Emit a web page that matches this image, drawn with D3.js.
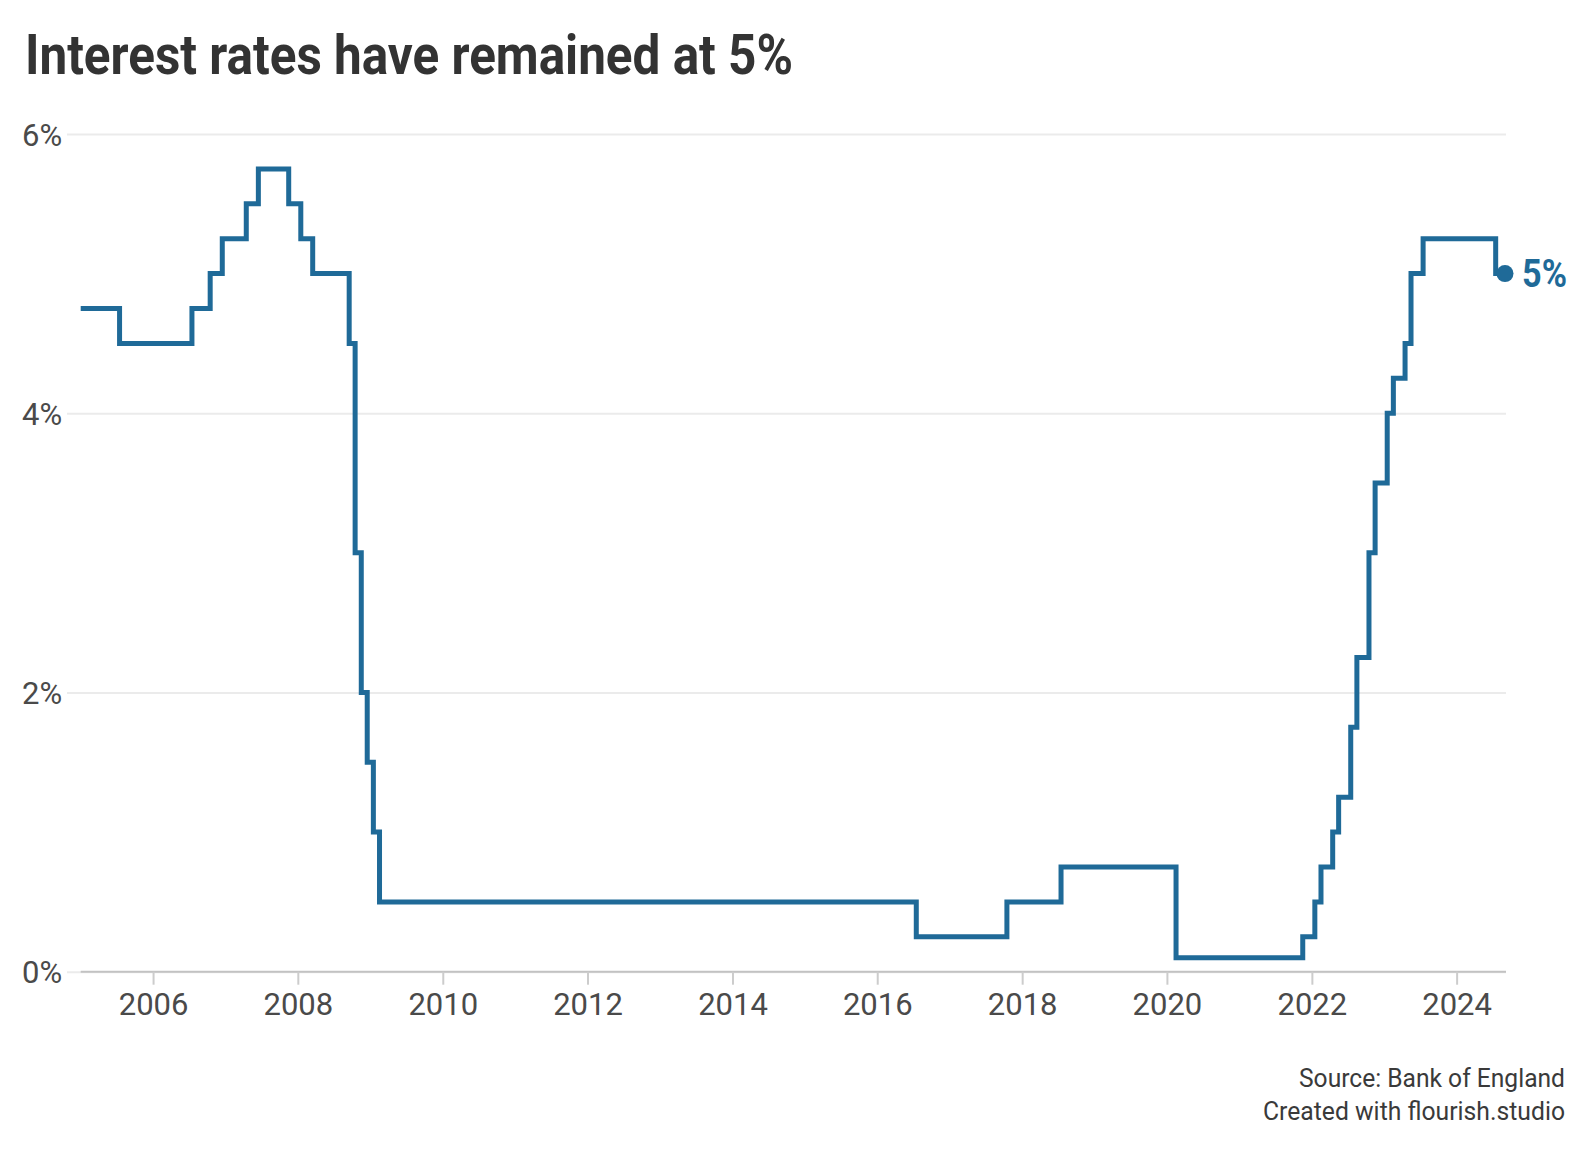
<!DOCTYPE html>
<html>
<head>
<meta charset="utf-8">
<script src="https://cdn.jsdelivr.net/npm/d3@7"></script>
<style>
  html, body { margin: 0; padding: 0; background: #fff; }
  svg { display: block; font-family: Roboto, "Open Sans", sans-serif; }
</style>
</head>
<body>
<svg id="chart" width="1588" height="1150"></svg>
<script>
// ---- data (step positions) ----
const titleText = "Interest rates have remained at 5%";
const sourceLines = ["Source: Bank of England", "Created with flourish.studio"];
const rateDates = ["2005-01-01","2005-07-16","2006-07-16","2006-10-16","2006-12-16","2007-04-16","2007-06-16","2007-11-16","2008-01-16","2008-03-16","2008-09-16","2008-10-16","2008-11-16","2008-12-16","2009-01-16","2009-02-16","2016-07-16","2017-10-16","2018-07-16","2020-02-16","2021-11-16","2022-01-16","2022-02-16","2022-04-16","2022-05-16","2022-07-16","2022-08-16","2022-10-16","2022-11-16","2023-01-16","2023-02-16","2023-04-16","2023-05-16","2023-07-16","2024-07-16","2024-09-01"];
const rateValues = [4.75,4.5,4.75,5,5.25,5.5,5.75,5.5,5.25,5,4.5,3,2,1.5,1,0.5,0.25,0.5,0.75,0.1,0.25,0.5,0.75,1,1.25,1.75,2.25,3,3.5,4,4.25,4.5,5,5.25,5,5];
const yTicks = [0, 2, 4, 6];
const xTickYears = [2006,2008,2010,2012,2014,2016,2018,2020,2022,2024];
const endLabel = "5%";

// ---- setup ----
const parse = d3.timeParse("%Y-%m-%d");
const data = rateDates.map((d, i) => ({ date: parse(d), value: rateValues[i] }));
const blue = "#1f6a98";

const svg = d3.select("#chart");
const x = d3.scaleTime()
  .domain(d3.extent(data, d => d.date))
  .range([80.7, 1505]);
const y = d3.scaleLinear().domain([0, 6]).range([971.7, 134]);

// title
svg.append("text")
  .attr("x", 25).attr("y", 74)
  .attr("font-size", 56).attr("font-weight", 700)
  .attr("fill", "#333")
  .attr("textLength", 768).attr("lengthAdjust", "spacingAndGlyphs")
  .text(titleText);

// y gridlines + labels
const gridLeft = 67, gridRight = 1506;
const yAxis = svg.append("g")
  .attr("transform", `translate(${gridLeft},0)`)
  .call(d3.axisLeft(y).tickValues(yTicks).tickFormat(d => d + "%").tickSize(-(gridRight - gridLeft)));
yAxis.select(".domain").remove();
yAxis.selectAll(".tick line").attr("stroke", "#ebebeb").attr("stroke-width", 2);
yAxis.selectAll(".tick text")
  .attr("x", 22 - gridLeft).attr("dy", null).attr("y", 11)
  .attr("text-anchor", "start")
  .attr("font-size", 31).attr("font-family", "Roboto")
  .attr("fill", "#4a4a4a");

// x axis
const xAxis = svg.append("g")
  .attr("transform", `translate(0,${y(0)})`)
  .call(d3.axisBottom(x)
    .tickValues(xTickYears.map(yr => new Date(yr, 0, 1)))
    .tickFormat(d3.timeFormat("%Y"))
    .tickSize(13).tickSizeOuter(0));
xAxis.select(".domain").attr("stroke", "#c2c2c2").attr("stroke-width", 2)
  .attr("d", `M${x.range()[0]},0H${gridRight}`);
xAxis.selectAll(".tick line").attr("stroke", "#cccccc").attr("stroke-width", 2);
xAxis.selectAll(".tick text")
  .attr("dy", null).attr("y", 43)
  .attr("font-size", 31).attr("font-family", "Roboto")
  .attr("fill", "#4a4a4a");

// line
const line = d3.line()
  .x(d => x(d.date))
  .y(d => y(d.value))
  .curve(d3.curveStepAfter);
svg.append("path")
  .datum(data)
  .attr("d", line)
  .attr("fill", "none")
  .attr("stroke", blue)
  .attr("stroke-width", 5)
  .attr("stroke-linejoin", "miter")
  .attr("stroke-linecap", "butt");

// end dot + label
const last = data[data.length - 1];
svg.append("circle")
  .attr("cx", x(last.date)).attr("cy", y(last.value))
  .attr("r", 8.5).attr("fill", blue);
svg.append("text")
  .attr("x", x(last.date) + 17).attr("y", y(last.value) + 13)
  .attr("font-size", 38).attr("font-weight", 700)
  .attr("fill", blue)
  .attr("textLength", 45).attr("lengthAdjust", "spacingAndGlyphs")
  .text(endLabel);

// source
const srcWidths = [266, 302];
const srcY = [1087, 1120];
sourceLines.forEach((t, i) => {
  svg.append("text")
    .attr("x", 1565).attr("y", srcY[i])
    .attr("text-anchor", "end")
    .attr("font-size", 26)
    .attr("fill", "#3a3a3a")
    .attr("textLength", srcWidths[i]).attr("lengthAdjust", "spacingAndGlyphs")
    .text(t);
});
</script>
</body>
</html>
